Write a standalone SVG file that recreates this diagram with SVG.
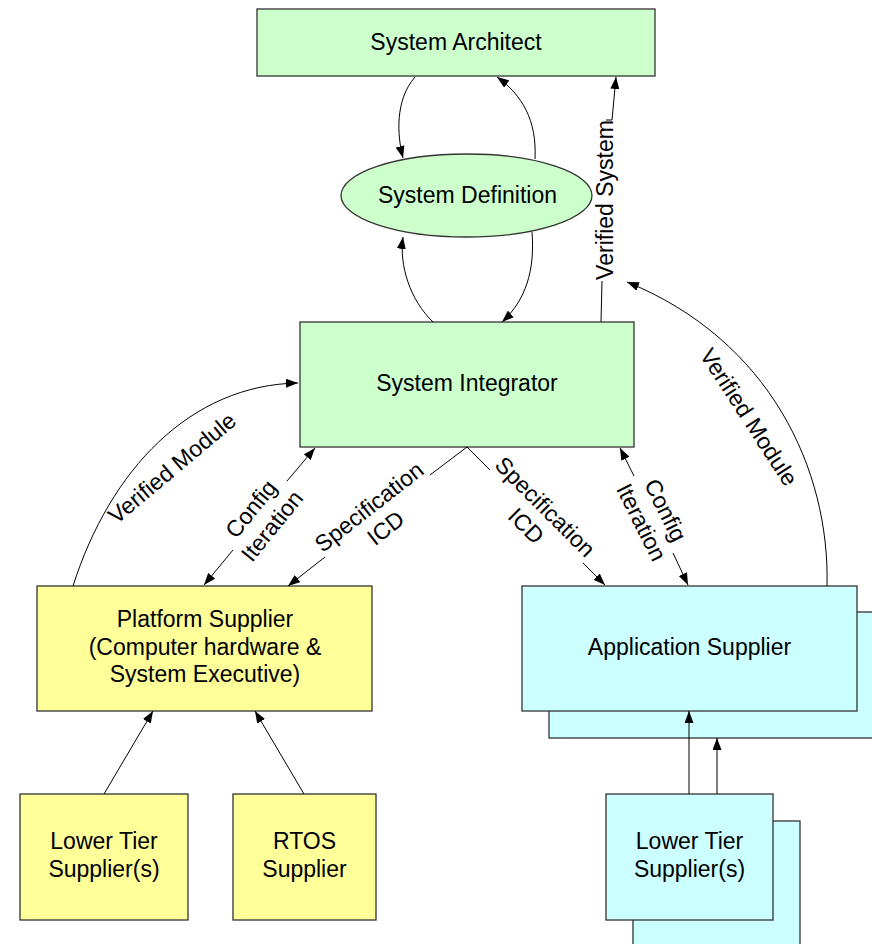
<svg xmlns="http://www.w3.org/2000/svg" width="872" height="944" viewBox="0 0 872 944">
  <defs>
    <marker id="arrow" viewBox="0 0 12 9" refX="12" refY="4.5" markerWidth="12" markerHeight="9" markerUnits="userSpaceOnUse" orient="auto">
      <path d="M0,0 L12,4.5 L0,9 z" fill="#000"/>
    </marker>
    <style>
      .box { stroke: #333; stroke-width: 1.3; }
      .green { fill: #ccffcc; }
      .yellow { fill: #ffff99; }
      .cyan { fill: #ccffff; }
      text { font-family: "Liberation Sans", Arial, sans-serif; font-size: 23px; fill: #000; }
      .c { text-anchor: middle; }
      .link { fill: none; stroke: #000; stroke-width: 1; }
      .arr { marker-end: url(#arrow); }
    </style>
  </defs>
  <rect width="872" height="944" fill="#fff"/>

  <!-- nodes -->
  <g id="system-architect">
    <rect class="box green" x="257" y="9" width="398" height="67"/>
    <text class="c" x="456" y="50">System Architect</text>
  </g>
  <g id="system-definition">
    <ellipse class="box green" cx="466.5" cy="195.5" rx="125.5" ry="41.5"/>
    <text class="c" x="467.5" y="203">System Definition</text>
  </g>
  <g id="system-integrator">
    <rect class="box green" x="300" y="322" width="334" height="125"/>
    <text class="c" x="467" y="391">System Integrator</text>
  </g>
  <g id="platform-supplier">
    <rect class="box yellow" x="37" y="586" width="335" height="125"/>
    <text class="c" x="205" y="627">Platform Supplier</text>
    <text class="c" x="205" y="655">(Computer hardware &amp;</text>
    <text class="c" x="205" y="682">System Executive)</text>
  </g>
  <g id="application-supplier">
    <rect class="box cyan" x="549" y="612" width="335" height="126"/>
    <rect class="box cyan" x="522" y="586" width="335" height="125"/>
    <text class="c" x="689.5" y="655">Application Supplier</text>
  </g>
  <g id="lower-tier-platform">
    <rect class="box yellow" x="20" y="794" width="168" height="126"/>
    <text class="c" x="104" y="849">Lower Tier</text>
    <text class="c" x="104" y="877">Supplier(s)</text>
  </g>
  <g id="rtos-supplier">
    <rect class="box yellow" x="233" y="794" width="143" height="126"/>
    <text class="c" x="304.5" y="849">RTOS</text>
    <text class="c" x="304.5" y="877">Supplier</text>
  </g>
  <g id="lower-tier-application">
    <rect class="box cyan" x="633" y="821" width="167" height="126"/>
    <rect class="box cyan" x="606" y="794" width="167" height="126"/>
    <text class="c" x="689.5" y="849">Lower Tier</text>
    <text class="c" x="689.5" y="877">Supplier(s)</text>
  </g>

  <!-- connectors -->
  <g id="connectors">
    <!-- architect / definition loop -->
    <path class="link arr" d="M415,77 C395,100 397,135 403,158"/>
    <path class="link arr" d="M535,159 C537,120 522,95 497,77"/>
    <!-- integrator / definition loop -->
    <path class="link arr" d="M433,322 C410,300 399,265 403,237"/>
    <path class="link arr" d="M532,232 C535,270 526,300 502,322"/>

    <!-- verified system -->
    <path class="link" d="M601,322 L602,281"/>
    <path class="link" d="M606,120 L612,120"/>
    <path class="link arr" d="M612,120 L616,77"/>
    <text class="c" transform="translate(605,200) rotate(-90)" y="8">Verified System</text>

    <!-- verified module from application supplier -->
    <path class="link arr" d="M827,586 C830,470 770,340 627,282"/>
    <text class="c" transform="translate(749,417) rotate(57)" y="8">Verified Module</text>

    <!-- verified module from platform supplier -->
    <path class="link arr" d="M73,586 C110,470 190,385 298,383"/>
    <text class="c" transform="translate(172,468) rotate(-40)" y="8">Verified Module</text>

    <!-- config iteration, platform side -->
    <path class="link arr" d="M287,481 L315,448"/>
    <path class="link arr" d="M233,550 L204,585"/>
    <text class="c" transform="translate(261,517) rotate(-51)"><tspan x="0" y="-5">Config</tspan><tspan x="0" y="22">Iteration</tspan></text>

    <!-- specification / ICD, platform side -->
    <path class="link" d="M467,447 L430,475"/>
    <path class="link arr" d="M325,557 L288,586"/>
    <text class="c" transform="translate(377,517) rotate(-38)"><tspan x="0" y="-5">Specification</tspan><tspan x="0" y="22">ICD</tspan></text>

    <!-- specification / ICD, application side -->
    <path class="link" d="M467,447 L490,470"/>
    <path class="link arr" d="M583,563 L605,585"/>
    <text class="c" transform="translate(536,516) rotate(45)"><tspan x="0" y="-5">Specification</tspan><tspan x="0" y="22">ICD</tspan></text>

    <!-- config iteration, application side -->
    <path class="link arr" d="M634,476 L620,448"/>
    <path class="link arr" d="M673,553 L688,585"/>
    <text class="c" transform="translate(654,516) rotate(63.5)"><tspan x="0" y="-5">Config</tspan><tspan x="0" y="22">Iteration</tspan></text>

    <!-- lower tier links -->
    <path class="link arr" d="M104,794 L153,711"/>
    <path class="link arr" d="M304,794 L255,711"/>
    <path class="link arr" d="M689,794 L689,711"/>
    <path class="link arr" d="M717,794 L717,738"/>
  </g>
</svg>
